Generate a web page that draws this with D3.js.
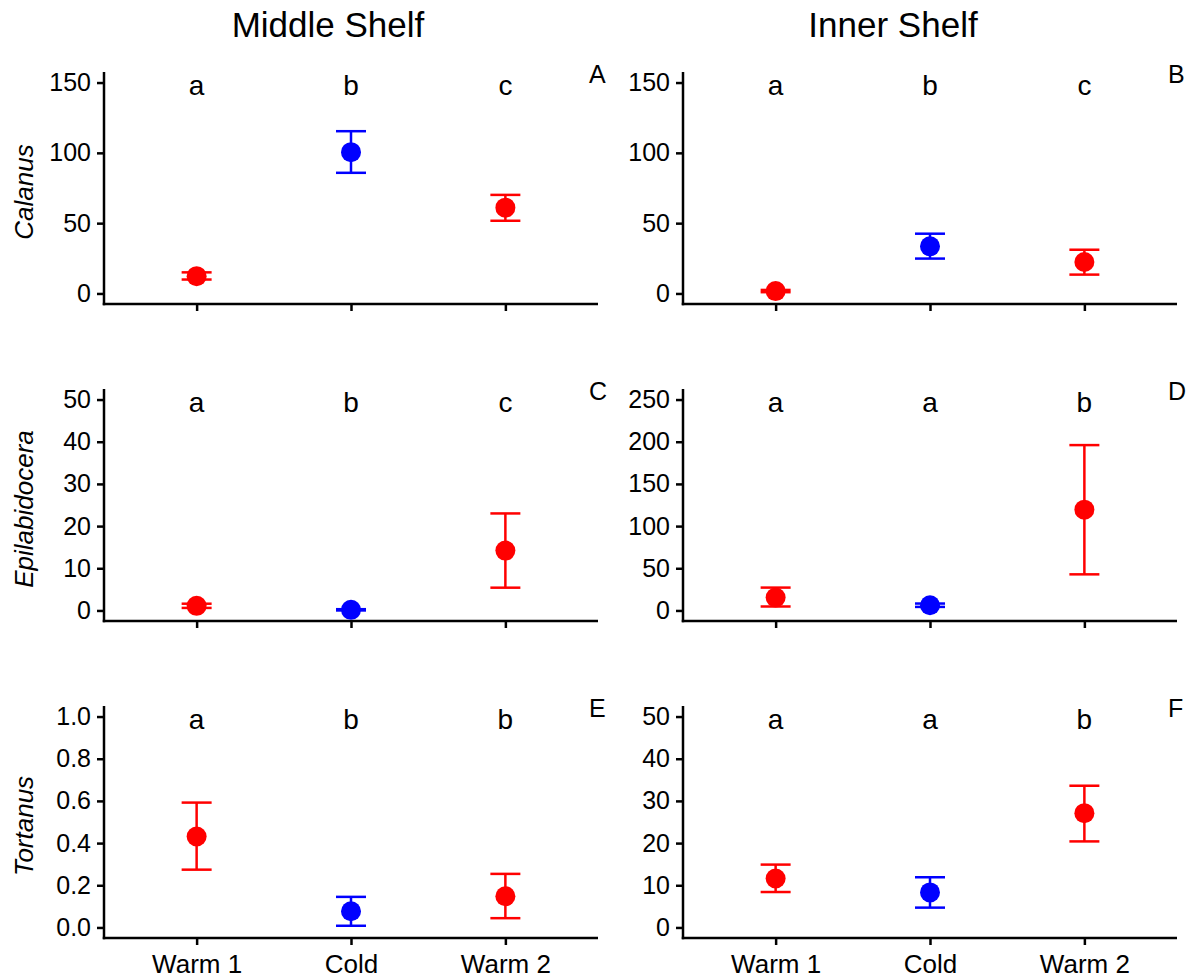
<!DOCTYPE html>
<html>
<head>
<meta charset="utf-8">
<script src="https://cdn.jsdelivr.net/npm/d3@7"></script>
<style>
  html, body { margin: 0; padding: 0; background: #ffffff; }
  svg { display: block; font-family: "Liberation Sans", Arial, sans-serif; }
</style>
</head>
<body>
<svg id="chart" width="1192" height="978"></svg>
<script>
// Periods on the x axis and their point colours
const periods = ["Warm 1", "Cold", "Warm 2"];
const periodColors = ["#FF0000", "#0000FF", "#FF0000"];

// Column and row headings
const shelves = ["Middle Shelf", "Inner Shelf"];
const taxa = ["Calanus", "Epilabidocera", "Tortanus"];
const panelTags = ["A", "B", "C", "D", "E", "F"];

// Calanus, middle shelf (A)
const meanA = [12.3, 100.5, 61.0];
const lowA  = [9.9, 85.8, 51.7];
const highA = [15.0, 115.4, 70.1];
const lettersA = ["a", "b", "c"];

// Calanus, inner shelf (B)
const meanB = [1.7, 33.5, 22.4];
const lowB  = [0.9, 24.8, 13.4];
const highB = [2.5, 42.5, 31.1];
const lettersB = ["a", "b", "c"];

// Epilabidocera, middle shelf (C)
const meanC = [1.1, 0.15, 14.2];
const lowC  = [0.6, 0.0, 5.4];
const highC = [1.6, 0.3, 23.0];
const lettersC = ["a", "b", "c"];

// Epilabidocera, inner shelf (D)
const meanD = [15.3, 6.2, 119.5];
const lowD  = [4.7, 4.2, 42.8];
const highD = [27.1, 8.2, 196.0];
const lettersD = ["a", "a", "b"];

// Tortanus, middle shelf (E)
const meanE = [0.431, 0.077, 0.148];
const lowE  = [0.274, 0.008, 0.044];
const highE = [0.592, 0.145, 0.254];
const lettersE = ["a", "b", "b"];

// Tortanus, inner shelf (F)
const meanF = [11.6, 8.3, 27.1];
const lowF  = [8.4, 4.7, 20.4];
const highF = [14.9, 11.9, 33.6];
const lettersF = ["a", "a", "b"];

// Axis extent and tick spacing for each panel (A..F)
const axisMax = [150, 150, 50, 250, 1, 50];
const tickStep = [50, 50, 10, 50, 0.2, 10];

const means = [meanA, meanB, meanC, meanD, meanE, meanF];
const lows = [lowA, lowB, lowC, lowD, lowE, lowF];
const highs = [highA, highB, highC, highD, highE, highF];
const letters = [lettersA, lettersB, lettersC, lettersD, lettersE, lettersF];

// Layout of the 3 x 2 grid
const colLeft = [104, 683];
const panelWidth = 494;
const rowTop = [72, 389, 706];
const panelHeight = 232;

const svg = d3.select("#chart");
const black = "#000000";
const lineW = 2.5;

// Column headings
shelves.forEach((s, c) => {
  svg.append("text")
    .attr("x", [328, 893][c])
    .attr("y", 37)
    .attr("text-anchor", "middle")
    .style("font-size", "35px")
    .attr("fill", black)
    .text(s);
});

for (let r = 0; r < 3; r++) {
  for (let c = 0; c < 2; c++) {
    const i = r * 2 + c;
    const x0 = colLeft[c];
    const y0 = rowTop[r];
    const g = svg.append("g");

    // Discrete x positions, padded like a ggplot discrete axis
    const x = d3.scalePoint()
      .domain(periods)
      .range([x0, x0 + panelWidth])
      .padding(0.6);

    const ymax = axisMax[i];
    const y = d3.scaleLinear()
      .domain([-0.05 * ymax, 1.05 * ymax])
      .range([y0 + panelHeight, y0]);

    const ticks = d3.range(0, ymax + tickStep[i] / 2, tickStep[i]);

    // y axis
    const yAxis = d3.axisLeft(y)
      .tickValues(ticks)
      .tickSize(7)
      .tickPadding(6)
      .tickFormat(ymax === 1 ? d3.format(".1f") : d3.format("d"));
    const ya = g.append("g")
      .attr("transform", `translate(${x0},0)`)
      .call(yAxis);
    ya.select(".domain").remove();
    ya.selectAll(".tick line").attr("stroke", black).attr("stroke-width", lineW);
    ya.selectAll(".tick text")
      .attr("fill", black)
      .style("font-size", "25px")
      .style("font-family", "'Liberation Sans', Arial, sans-serif");

    // x axis
    const xAxis = d3.axisBottom(x).tickSize(7).tickPadding(8);
    const xa = g.append("g")
      .attr("transform", `translate(0,${y0 + panelHeight})`)
      .call(xAxis);
    xa.select(".domain").remove();
    xa.selectAll(".tick line").attr("stroke", black).attr("stroke-width", lineW);
    if (r === 2) {
      xa.selectAll(".tick text")
        .attr("fill", black)
        .attr("dy", "0.75em")
        .style("font-size", "26px")
        .style("font-family", "'Liberation Sans', Arial, sans-serif");
    } else {
      xa.selectAll(".tick text").remove();
    }

    // axis lines
    g.append("line")
      .attr("x1", x0).attr("x2", x0)
      .attr("y1", y0).attr("y2", y0 + panelHeight + lineW / 2)
      .attr("stroke", black).attr("stroke-width", lineW);
    g.append("line")
      .attr("x1", x0 - lineW / 2).attr("x2", x0 + panelWidth)
      .attr("y1", y0 + panelHeight).attr("y2", y0 + panelHeight)
      .attr("stroke", black).attr("stroke-width", lineW);

    // Error bars
    const bars = g.append("g");
    periods.forEach((p, k) => {
      const cx = x(p);
      const col = periodColors[k];
      bars.append("line")
        .attr("x1", cx).attr("x2", cx)
        .attr("y1", y(lows[i][k])).attr("y2", y(highs[i][k]))
        .attr("stroke", col).attr("stroke-width", lineW);
      [lows[i][k], highs[i][k]].forEach(v => {
        bars.append("line")
          .attr("x1", cx - 15).attr("x2", cx + 15)
          .attr("y1", y(v)).attr("y2", y(v))
          .attr("stroke", col).attr("stroke-width", lineW);
      });
    });

    // Mean points
    g.selectAll("circle.mean")
      .data(periods)
      .join("circle")
      .attr("class", "mean")
      .attr("cx", d => x(d))
      .attr("cy", (d, k) => y(means[i][k]))
      .attr("r", 10)
      .attr("fill", (d, k) => periodColors[k]);

    // Significance letters along the top of the panel
    g.selectAll("text.sig")
      .data(periods)
      .join("text")
      .attr("class", "sig")
      .attr("x", d => x(d))
      .attr("y", y(ymax) + 12)
      .attr("text-anchor", "middle")
      .style("font-size", "28px")
      .attr("fill", black)
      .text((d, k) => letters[i][k]);

    // Panel tag
    g.append("text")
      .attr("x", x0 + panelWidth - 9)
      .attr("y", y0 + 11)
      .style("font-size", "25px")
      .attr("fill", black)
      .text(panelTags[i]);

    // Row title on the left column
    if (c === 0) {
      g.append("text")
        .attr("transform", `translate(33,${y0 + panelHeight / 2 + 4}) rotate(-90)`)
        .attr("text-anchor", "middle")
        .style("font-size", "26px")
        .style("font-style", "italic")
        .attr("fill", black)
        .text(taxa[r]);
    }
  }
}
</script>
</body>
</html>
